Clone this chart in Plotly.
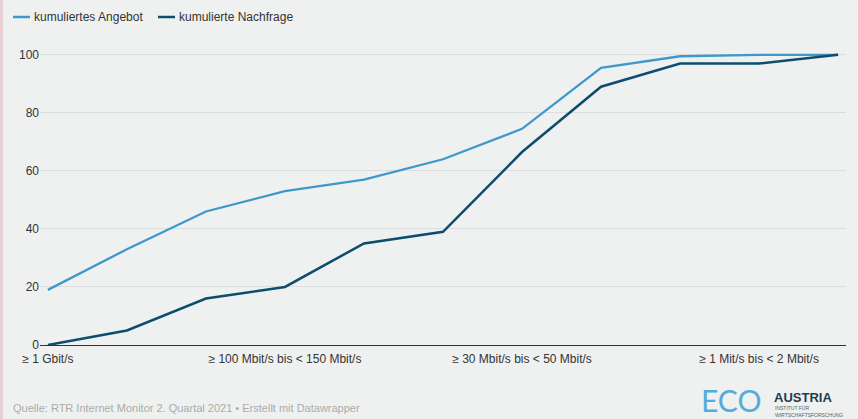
import plotly.graph_objects as go

categories = [
    "≥ 1 Gbit/s",
    "≥ 300 Mbit/s bis < 1 Gbit/s",
    "≥ 150 Mbit/s bis < 300 Mbit/s",
    "≥ 100 Mbit/s bis < 150 Mbit/s",
    "≥ 75 Mbit/s bis < 100 Mbit/s",
    "≥ 50 Mbit/s bis < 75 Mbit/s",
    "≥ 30 Mbit/s bis < 50 Mbit/s",
    "≥ 10 Mbit/s bis < 30 Mbit/s",
    "≥ 2 Mbit/s bis < 10 Mbit/s",
    "≥ 1 Mit/s bis < 2 Mbit/s",
    "< 1 Mbit/s",
]
angebot = [19, 33, 46, 53, 57, 64, 74.5, 95.5, 99.5, 100, 100]
nachfrage = [0, 5, 16, 20, 35, 39, 66.5, 89, 97, 97, 100]
tick_labels = [categories[0], categories[3], categories[6], categories[9]]
y_ticks = [0, 20, 40, 60, 80, 100]

W, H = 858, 419
L, R, T, B = 40, 12, 49, 74
PW, PH = W - L - R, H - T - B

def px(x):
    return (x - L) / PW

def py(y):
    return (H - B - y) / PH

LIGHT = "#3f98cb"
DARK = "#0d4d6e"
BG = "#eff1f0"
FONT = "Liberation Sans, Arial, sans-serif"

fig = go.Figure()
fig.add_trace(go.Scatter(x=categories, y=angebot, mode="lines", name="kumuliertes Angebot",
                         line=dict(color=LIGHT, width=2.3), showlegend=False))
fig.add_trace(go.Scatter(x=categories, y=nachfrage, mode="lines", name="kumulierte Nachfrage",
                         line=dict(color=DARK, width=2.5), showlegend=False))

shapes = [
    dict(type="rect", xref="paper", yref="paper", x0=px(0), x1=px(3), y0=py(H), y1=py(0),
         fillcolor="#e6cfd6", line=dict(width=0), layer="below"),
    dict(type="line", xref="paper", yref="paper", x0=px(13), x1=px(30), y0=py(17), y1=py(17),
         line=dict(color=LIGHT, width=2.5)),
    dict(type="line", xref="paper", yref="paper", x0=px(158), x1=px(175), y0=py(17), y1=py(17),
         line=dict(color=DARK, width=2.5)),
]

annotations = [
    dict(text="kumuliertes Angebot", xref="paper", yref="paper", x=px(32), y=py(17),
         xanchor="left", yanchor="middle", showarrow=False, font=dict(size=12, color="#333", family=FONT)),
    dict(text="kumulierte Nachfrage", xref="paper", yref="paper", x=px(177), y=py(17),
         xanchor="left", yanchor="middle", showarrow=False, font=dict(size=12, color="#333", family=FONT)),
    dict(text="Quelle: RTR Internet Monitor 2. Quartal 2021 • Erstellt mit Datawrapper",
         xref="paper", yref="paper", x=px(11), y=py(408), xanchor="left", yanchor="middle",
         showarrow=False, font=dict(size=11, color="#a9acab", family=FONT)),
    dict(text="ECO", xref="paper", yref="paper", x=px(700), y=py(419), xanchor="left", yanchor="bottom",
         borderpad=0, showarrow=False,
         font=dict(size=30, color="#56abd8", family="Lato, Liberation Sans, sans-serif")),
    dict(text="<b>AUSTRIA</b>", xref="paper", yref="paper", x=px(773), y=py(398), xanchor="left",
         yanchor="middle", borderpad=0, showarrow=False, font=dict(size=13, color="#1f3b4a", family=FONT)),
    dict(text="INSTITUT FÜR<br>WIRTSCHAFTSFORSCHUNG", xref="paper", yref="paper", x=px(774), y=py(419),
         xanchor="left", yanchor="bottom", align="left", borderpad=0, showarrow=False,
         font=dict(size=5, color="#50636d", family=FONT)),
]

fig.update_layout(
    width=W, height=H,
    margin=dict(l=L, r=R, t=T, b=B),
    paper_bgcolor=BG, plot_bgcolor=BG,
    showlegend=False,
    shapes=shapes, annotations=annotations,
    font=dict(family=FONT, size=12, color="#333"),
    xaxis=dict(type="category", categoryorder="array", categoryarray=categories,
               range=[-0.1, len(categories) - 0.9], tickmode="array", tickvals=tick_labels,
               ticktext=tick_labels, showgrid=False, showline=False, zeroline=False, ticks="",
               ticklabelstandoff=5,
               tickfont=dict(size=12, color="#333", family=FONT)),
    yaxis=dict(range=[0, 102], tickmode="array", tickvals=y_ticks, showgrid=True,
               gridcolor="#dcdedd", gridwidth=1, zeroline=True, zerolinecolor="#333",
               zerolinewidth=1.2, ticks="", showline=False,
               tickfont=dict(size=12, color="#333", family=FONT)),
)

fig.write_html(
    "out.html",
    config={"displayModeBar": False},
    post_script="document.body.style.margin='0';document.body.style.padding='0';"
                "document.body.style.background='" + BG + "';",
)
